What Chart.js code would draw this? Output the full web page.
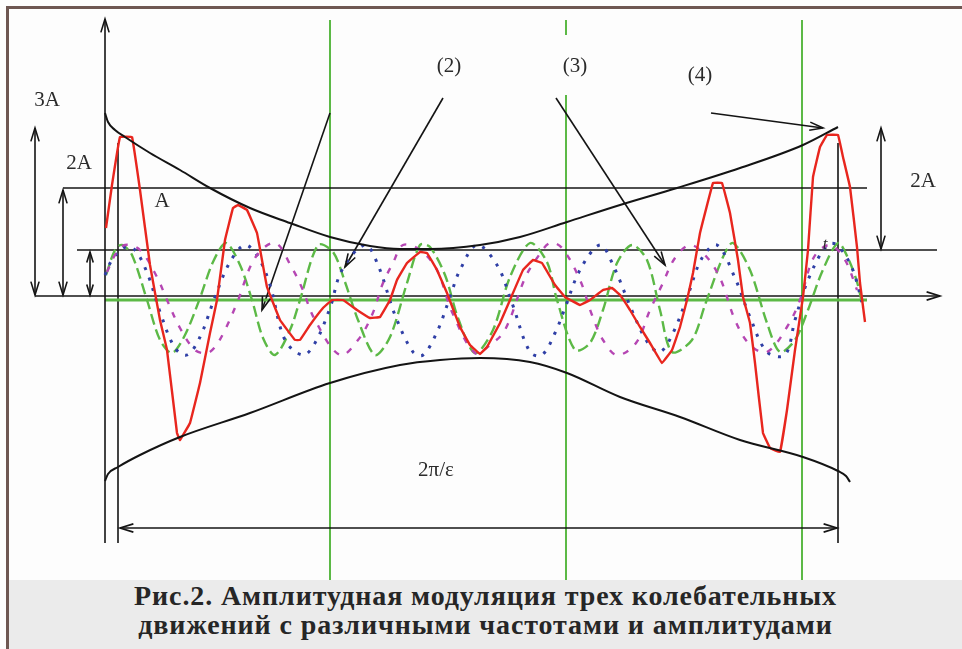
<!DOCTYPE html>
<html>
<head>
<meta charset="utf-8">
<script src="https://cdn.jsdelivr.net/npm/chart.js@4.4.0/dist/chart.umd.min.js"></script>
<style>
  html, body { margin: 0; padding: 0; background: #ffffff; }
  #wrap { position: relative; width: 962px; height: 649px; overflow: hidden; background: #fdfdfd; }
  #frame { position: absolute; left: 6px; top: 6px; right: -10px; bottom: -10px;
           border-top: 3px solid #6e5752; border-left: 3px solid #6e5752; }
  #plot { position: absolute; left: 0; top: 0; }
  #caption { position: absolute; left: 9px; top: 580px; width: 953px; height: 69px;
             background: #ebebeb; color: #262626; text-align: center;
             font-family: "Liberation Serif", "DejaVu Serif", serif; font-weight: bold;
             font-size: 28px; letter-spacing: 0.9px; line-height: 29px; padding-top: 1px; box-sizing: border-box; }
</style>
</head>
<body>
<div id="wrap">
  <div id="frame"></div>
  <canvas id="plot" width="962" height="649"></canvas>
  <div id="caption">Рис.2. Амплитудная модуляция трех колебательных<br>движений с различными частотами и амплитудами</div>
</div>
<script>
// Time runs along x (arbitrary units), displacement along y (arbitrary units).

// Sum of the three oscillations (red)
const redSignal = [
  [1,69],[7,112],[15,160],[27,160],[35,107],[45,32],[55,-23],[62,-53],[72,-136],[75,-143],
  [85,-126],[95,-86],[105,-36],[112,-3],[120,57],[128,89],[133,92],[142,87],[152,64],[162,10],
  [175,-23],[190,-43],[195,-43],[205,-28],[218,-11],[227,-3],[238,-3],[252,-13],[265,-21],[275,-20],
  [285,-3],[292,17],[302,34],[315,45],[322,44],[332,27],[342,4],[355,-30],[365,-48],[375,-57],
  [382,-50],[395,-26],[405,-3],[418,27],[428,37],[437,34],[450,12],[460,0],[475,-8],[485,-3],
  [498,7],[507,9],[515,2],[525,-13],[535,-30],[545,-46],[557,-66],[567,-53],[575,-30],[582,-3],
  [588,24],[595,64],[608,114],[617,114],[625,84],[633,37],[638,0],[645,-26],[650,-66],[658,-136],
  [665,-151],[675,-155],[682,-113],[690,-53],[698,0],[703,47],[708,120],[715,150],[722,162],[733,162],
  [738,140],[745,110],[752,50],[755,14],[760,-25]
];

// First oscillation (green, dashed)
const greenSignal = [
  [1,22],[10,47],[17,52],[27,42],[42,-3],[55,-43],[67,-56],[80,-38],[95,-1],[108,35],
  [121,54],[135,32],[147,-3],[158,-41],[170,-58],[185,-33],[195,-3],[213,52],[228,45],[240,15],
  [253,-23],[270,-58],[285,-40],[302,14],[315,52],[325,50],[340,22],[353,-21],[370,-56],[388,-33],
  [405,20],[425,54],[442,35],[452,-3],[470,-53],[485,-46],[498,-13],[512,34],[527,52],[542,37],
  [555,-13],[567,-55],[587,-43],[600,-8],[618,40],[628,54],[645,27],[662,-26],[675,-55],[690,-43],
  [703,-13],[717,25],[733,54],[743,39],[752,15],[758,-10]
];

// Second oscillation (blue, dotted)
const blueSignal = [
  [0,22],[7,37],[20,50],[30,47],[43,22],[55,-15],[70,-51],[82,-58],[95,-40],[110,0],
  [125,35],[140,52],[153,40],[165,12],[180,-43],[198,-58],[210,-46],[225,-11],[237,27],[260,52],
  [273,32],[290,-18],[308,-55],[318,-58],[332,-35],[345,0],[355,27],[372,52],[392,32],[407,-6],
  [425,-55],[437,-58],[450,-36],[460,-11],[475,27],[495,52],[508,32],[528,-16],[543,-46],[555,-55],
  [568,-36],[583,2],[597,39],[612,52],[630,19],[645,-20],[662,-55],[680,-58],[690,-23],[703,17],
  [722,52],[732,52],[747,29],[757,-5]
];

// Third oscillation (magenta, dashed)
const magentaSignal = [
  [2,25],[10,42],[20,52],[35,47],[52,20],[62,-3],[75,-31],[90,-53],[102,-56],[110,-50],
  [120,-33],[132,-6],[150,39],[170,54],[187,29],[197,9],[210,-23],[235,-58],[253,-43],[267,-18],
  [278,14],[288,34],[298,52],[315,47],[332,27],[347,-15],[370,-56],[385,-48],[400,-33],[420,19],
  [432,39],[445,54],[457,49],[475,17],[487,-18],[498,-43],[512,-58],[531,-46],[545,-13],[557,12],
  [570,39],[585,52],[600,42],[615,19],[630,-23],[645,-48],[662,-55],[682,-30],[695,-3],[709,40],
  [725,52],[740,37],[752,7]
];

// Envelopes of the summed motion
const upperEnvelope = [
  [0,184],[3,175],[10,167],[20,160],[45,144],[75,127],[105,109],[145,89],[185,74],[225,60],
  [265,51],[295,48],[325,48],[375,52],[415,60],[462,75],[515,92],[572,109],[635,129],[698,152],[733,170]
];
const lowerEnvelope = [
  [0,-184],[3,-177],[13,-170],[35,-158],[75,-140],[145,-116],[225,-86],[295,-68],[335,-63],[375,-61],
  [425,-65],[462,-76],[515,-100],[575,-120],[635,-143],[698,-160],[733,-174],[741,-179],[745,-185]
];

// Amplitude levels: A, 2A and the time axis
const levelA = 47, level2A = 109, levelAxis = 1, levelGreen = -3;
// Beat period 2π/ε: start and end times
const periodStart = 13, periodEnd = 733;
// Sample instants marked by vertical lines
const markTimes = [225, 461, 697];

const xy = a => a.map(p => ({ x: p[0], y: p[1] }));
const seg = (x1, y1, x2, y2) => [{ x: x1, y: y1 }, { x: x2, y: y2 }];

const BLACK = '#141414', RED = '#e8261e', GREEN = '#5cb946', BLUE = '#2f3fa6', MAGENTA = '#b546b3';

function straight(data, extra) {
  return Object.assign({ data, borderColor: BLACK, borderWidth: 1.6, pointRadius: 0, tension: 0, fill: false }, extra || {});
}

const datasets = [
  straight(xy(upperEnvelope), { borderWidth: 2, cubicInterpolationMode: 'monotone' }),
  straight(xy(lowerEnvelope), { borderWidth: 2, cubicInterpolationMode: 'monotone' }),
  straight(xy(redSignal), { borderColor: RED, borderWidth: 2.4, tension: 0.05 }),
  straight(xy(magentaSignal), { borderColor: MAGENTA, borderWidth: 2.4, tension: 0.35, borderDash: [6, 9] }),
  straight(xy(blueSignal), { borderColor: BLUE, borderWidth: 3, tension: 0.35, borderDash: [3, 8] }),
  straight(xy(greenSignal), { borderColor: GREEN, borderWidth: 2.4, tension: 0.3, borderDash: [11, 5] }),
  // axes
  straight(seg(0, -246, 0, 278), { heads: ['end'] }),
  straight(seg(-70, levelAxis, 835, levelAxis), { heads: ['end'] }),
  // reference levels
  straight(seg(-42, level2A, 762, level2A)),
  straight(seg(-28, levelA, 832, levelA)),
  straight(seg(0, levelGreen, 762, levelGreen), { borderColor: GREEN, borderWidth: 3 }),
  // period bounds
  straight(seg(periodStart, 154, periodStart, -246)),
  straight(seg(periodEnd, 154, periodEnd, -246)),
  straight(seg(periodStart + 2, -231, periodEnd - 1, -231), { heads: ['start', 'end'] }),
  // amplitude markers
  straight(seg(-70, 169, -70, 2), { heads: ['start', 'end'] }),
  straight(seg(-42, 107, -42, 2), { heads: ['start', 'end'] }),
  straight(seg(-15, 45, -15, 2), { heads: ['start', 'end'], headSize: 11 }),
  straight(seg(776, 169, 776, 48), { heads: ['start', 'end'] }),
  // pointers
  straight(seg(225, 184, 157, -13), { heads: ['end'] }),
  straight(seg(338, 199, 240, 30), { heads: ['end'] }),
  straight(seg(451, 199, 560, 32), { heads: ['end'] }),
  straight(seg(606, 184, 718, 169), { heads: ['end'] }),
  // vertical marks
  straight(seg(markTimes[0], 277, markTimes[0], -285), { borderColor: GREEN, borderWidth: 2 }),
  straight(seg(markTimes[1], 277, markTimes[1], 262), { borderColor: GREEN, borderWidth: 2 }),
  straight(seg(markTimes[1], 202, markTimes[1], -285), { borderColor: GREEN, borderWidth: 2 }),
  straight(seg(markTimes[2], 277, markTimes[2], -285), { borderColor: GREEN, borderWidth: 2 })
];

const labels = [
  { text: '3A', x: -58, y: 197 },
  { text: '2A', x: -26, y: 134 },
  { text: 'A', x: 57, y: 96 },
  { text: '(2)', x: 344, y: 231 },
  { text: '(3)', x: 470, y: 231 },
  { text: '(4)', x: 595, y: 222 },
  { text: '2A', x: 818, y: 116 },
  { text: '2π/ε', x: 331, y: -173 },
  { text: 't', x: 720, y: 52, italic: true, size: 17 }
];

function arrowHead(ctx, from, to, color, size) {
  const ang = Math.atan2(to.y - from.y, to.x - from.x);
  const spread = 0.3;
  ctx.save();
  ctx.strokeStyle = color;
  ctx.lineWidth = 1.6;
  ctx.beginPath();
  ctx.moveTo(to.x - size * Math.cos(ang - spread), to.y - size * Math.sin(ang - spread));
  ctx.lineTo(to.x, to.y);
  ctx.lineTo(to.x - size * Math.cos(ang + spread), to.y - size * Math.sin(ang + spread));
  ctx.stroke();
  ctx.restore();
}

const overlay = {
  id: 'overlay',
  afterDatasetsDraw(chart) {
    const ctx = chart.ctx;
    chart.data.datasets.forEach((ds, i) => {
      if (!ds.heads) return;
      const pts = chart.getDatasetMeta(i).data;
      const n = pts.length;
      const size = ds.headSize || 14;
      if (ds.heads.includes('end')) arrowHead(ctx, pts[n - 2], pts[n - 1], ds.borderColor, size);
      if (ds.heads.includes('start')) arrowHead(ctx, pts[1], pts[0], ds.borderColor, size);
    });
    const xs = chart.scales.x, ys = chart.scales.y;
    ctx.save();
    ctx.fillStyle = '#2b2b2b';
    ctx.textAlign = 'center';
    ctx.textBaseline = 'middle';
    labels.forEach(l => {
      ctx.font = (l.italic ? 'italic ' : '') + (l.size || 21) + 'px "Liberation Serif", "DejaVu Serif", serif';
      ctx.fillText(l.text, xs.getPixelForValue(l.x), ys.getPixelForValue(l.y));
    });
    ctx.restore();
  }
};

new Chart(document.getElementById('plot'), {
  type: 'line',
  data: { datasets },
  options: {
    responsive: false,
    devicePixelRatio: 1,
    animation: false,
    events: [],
    layout: { padding: 0 },
    plugins: { legend: { display: false }, tooltip: { enabled: false }, title: { display: false } },
    scales: {
      x: { type: 'linear', min: -105, max: 857, display: false },
      y: { type: 'linear', min: -352, max: 297, display: false }
    }
  },
  plugins: [overlay]
});
</script>
</body>
</html>
